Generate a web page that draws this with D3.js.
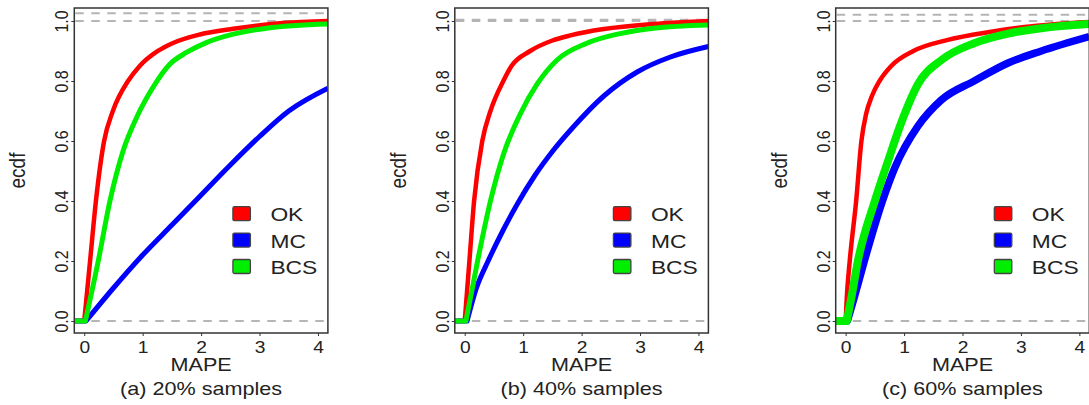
<!DOCTYPE html>
<html>
<head>
<meta charset="utf-8">
<script src="https://cdn.jsdelivr.net/npm/d3@7"></script>
<style>
  html, body { margin: 0; padding: 0; background: #fff; }
  svg { display: block; }
  text { font-family: "Liberation Sans", Arial, Helvetica, sans-serif; fill: #222; }
</style>
</head>
<body>
<svg id="chart" width="1089" height="405"></svg>
<script>
// Axis ticks and labels
const xTicks = [0, 1, 2, 3, 4];
const yTicks = [0, 0.2, 0.4, 0.6, 0.8, 1.0];
const yTickLabels = ["0.0", "0.2", "0.4", "0.6", "0.8", "1.0"];
const methods = ["OK", "MC", "BCS"];
const methodColors = ["#ff0000", "#0000ff", "#00ee00"];
const captions = ["(a) 20% samples", "(b) 40% samples", "(c) 60% samples"];

// ECDF of MAPE, 20% samples: [MAPE, ecdf]; the first point is the flat run-in at 0
const okA  = [[-0.17,0],[0,0],[0.1,0.2],[0.2,0.4],[0.34,0.6],[0.49,0.7],[0.75,0.8],[0.95,0.85],[1.26,0.9],[1.5,0.925],[1.98,0.955],[2.55,0.974],[3.4,0.993],[4.17,1.0]];
const mcA  = [[-0.17,0],[0.03,0],[0.5,0.11],[1,0.22],[1.5,0.32],[2,0.42],[2.5,0.52],[3,0.615],[3.5,0.7],[4.17,0.776]];
const bcsA = [[-0.17,0],[0.02,0],[0.24,0.2],[0.44,0.4],[0.67,0.57],[0.9,0.68],[1.18,0.78],[1.46,0.855],[1.75,0.895],[2.09,0.928],[2.55,0.956],[3.12,0.976],[4.17,0.99]];

// ECDF of MAPE, 40% samples
const okB  = [[-0.17,0],[0,0],[0.08,0.2],[0.16,0.4],[0.3,0.6],[0.44,0.7],[0.66,0.8],[0.8,0.85],[1.12,0.9],[1.5,0.935],[1.81,0.952],[2.38,0.973],[3.23,0.99],[4.17,1.0]];
const mcB  = [[-0.17,0],[0.04,0],[0.2,0.11],[0.4,0.2],[0.65,0.3],[0.9,0.39],[1.2,0.485],[1.5,0.565],[1.85,0.645],[2.38,0.75],[2.95,0.83],[3.52,0.88],[4.17,0.915]];
const bcsB = [[-0.17,0],[0.02,0],[0.22,0.2],[0.44,0.4],[0.67,0.56],[0.95,0.69],[1.24,0.79],[1.58,0.87],[2.09,0.926],[2.66,0.958],[3.23,0.976],[4.17,0.987]];

// ECDF of MAPE, 60% samples
const okC  = [[-0.17,0],[0,0],[0.02,0.08],[0.07,0.2],[0.18,0.4],[0.27,0.6],[0.35,0.69],[0.45,0.75],[0.58,0.8],[0.78,0.85],[1.16,0.9],[1.75,0.937],[2.49,0.964],[3.06,0.98],[4.17,0.997]];
const mcC  = [[-0.17,0],[0.03,0],[0.15,0.08],[0.32,0.2],[0.63,0.4],[0.84,0.51],[1.24,0.65],[1.64,0.737],[2.2,0.8],[2.78,0.86],[3.35,0.9],[4.17,0.948]];
const bcsC = [[-0.17,0],[0.02,0],[0.1,0.08],[0.21,0.2],[0.5,0.4],[0.72,0.53],[0.95,0.66],[1.24,0.79],[1.64,0.87],[2.2,0.926],[2.78,0.958],[3.35,0.976],[4.17,0.99]];

// Dashed reference levels drawn in each panel
const refA = [0, 1, 1.026];
const refB = [0, 1, 1.004];
const refC = [0, 1, 1.021];

const panels = [
  { series: [okA, mcA, bcsA], widths: [4.5, 5, 5],   refs: refA, caption: captions[0] },
  { series: [okB, mcB, bcsB], widths: [4.5, 5, 5],   refs: refB, caption: captions[1] },
  { series: [okC, mcC, bcsC], widths: [4.5, 7.5, 8], refs: refC, caption: captions[2] }
];

const svg = d3.select("#chart");
const boxLefts = [74.3, 454.8, 835.7];
const boxW = 253.6, boxTop = 8, boxBottom = 333;
const sx = 1.2; // horizontal text stretch

panels.forEach((p, i) => {
  const left = boxLefts[i];
  const x = d3.scaleLinear().domain([-0.17, 4.17]).range([left, left + boxW]);
  const y = d3.scaleLinear().domain([-0.04, 1.0433]).range([boxBottom, boxTop]);
  const g = svg.append("g");

  const clipId = "clip" + i;
  svg.append("clipPath").attr("id", clipId)
    .append("rect").attr("x", left).attr("y", boxTop).attr("width", boxW).attr("height", boxBottom - boxTop);

  // reference dashed lines
  g.selectAll("line.ref").data(p.refs).join("line")
    .attr("class", "ref")
    .attr("x1", left + 1).attr("x2", left + boxW)
    .attr("y1", d => y(d)).attr("y2", d => y(d))
    .attr("stroke", "#b5b5b5").attr("stroke-width", 2)
    .attr("stroke-dasharray", "8.5,7.5");

  // ecdf curves: straight run-in along 0, then a smooth rise
  const rise = d3.line().x(d => x(d[0])).y(d => y(d[1])).curve(d3.curveMonotoneX);
  const ecdfPath = s => `M${x(s[0][0])},${y(s[0][1])}L` + rise(s.slice(1)).slice(1);
  const plot = g.append("g").attr("clip-path", `url(#${clipId})`);
  p.series.forEach((s, k) => {
    plot.append("path").datum(s)
      .attr("d", ecdfPath)
      .attr("fill", "none")
      .attr("stroke", methodColors[k])
      .attr("stroke-width", p.widths[k])
      .attr("stroke-linejoin", "round")
      .attr("stroke-linecap", "butt");
  });

  // frame
  g.append("rect")
    .attr("x", left).attr("y", boxTop).attr("width", boxW).attr("height", boxBottom - boxTop)
    .attr("fill", "none").attr("stroke", "#333").attr("stroke-width", 1.5);

  // x axis
  const xa = g.append("g").attr("transform", `translate(0,${boxBottom})`)
    .call(d3.axisBottom(x).tickValues(xTicks).tickSize(3).tickPadding(0).tickFormat(d3.format("d")));
  xa.select(".domain").remove();
  xa.selectAll(".tick line").attr("stroke", "#333").attr("stroke-width", 1);
  xa.selectAll(".tick text").each(function () {
    d3.select(this).attr("y", null).attr("dy", null)
      .attr("transform", `translate(0,20) scale(${sx},1)`)
      .attr("font-size", 16).attr("fill", "#222")
      .attr("font-family", "Liberation Sans, Arial, sans-serif");
  });

  // y axis
  const ya = g.append("g").attr("transform", `translate(${left},0)`)
    .call(d3.axisLeft(y).tickValues(yTicks).tickSize(3).tickFormat((d, j) => yTickLabels[j]));
  ya.select(".domain").remove();
  ya.selectAll(".tick line").attr("stroke", "#333").attr("stroke-width", 1);
  ya.selectAll(".tick text").each(function () {
    d3.select(this).attr("x", null).attr("dy", null)
      .attr("text-anchor", "middle")
      .attr("transform", `translate(-6,0) scale(${sx},1) rotate(-90)`)
      .attr("font-size", 16).attr("fill", "#222")
      .attr("font-family", "Liberation Sans, Arial, sans-serif");
  });

  // axis titles
  g.append("text")
    .attr("transform", `translate(${left - 49},${(boxTop + boxBottom) / 2}) scale(${sx},1) rotate(-90)`)
    .attr("text-anchor", "middle").attr("font-size", 19).text("ecdf");
  g.append("text")
    .attr("transform", `translate(${x(2)},371) scale(${sx},1)`)
    .attr("text-anchor", "middle").attr("font-size", 18).text("MAPE");
  g.append("text")
    .attr("transform", `translate(${x(2)},395) scale(${sx},1)`)
    .attr("text-anchor", "middle").attr("font-size", 18).text(p.caption);

  // legend
  const right = left + boxW;
  const lg = g.append("g");
  methods.forEach((m, k) => {
    const cy = 213.7 + k * 26.4;
    lg.append("rect")
      .attr("x", right - 95).attr("y", cy - 7).attr("width", 17.5).attr("height", 14)
      .attr("rx", 1.5)
      .attr("fill", methodColors[k]).attr("stroke", "#444").attr("stroke-width", 1.3);
    lg.append("text")
      .attr("transform", `translate(${right - 57.5},${cy + 7.5}) scale(${sx},1)`)
      .attr("font-size", 19).text(m);
  });
});
</script>
</body>
</html>
